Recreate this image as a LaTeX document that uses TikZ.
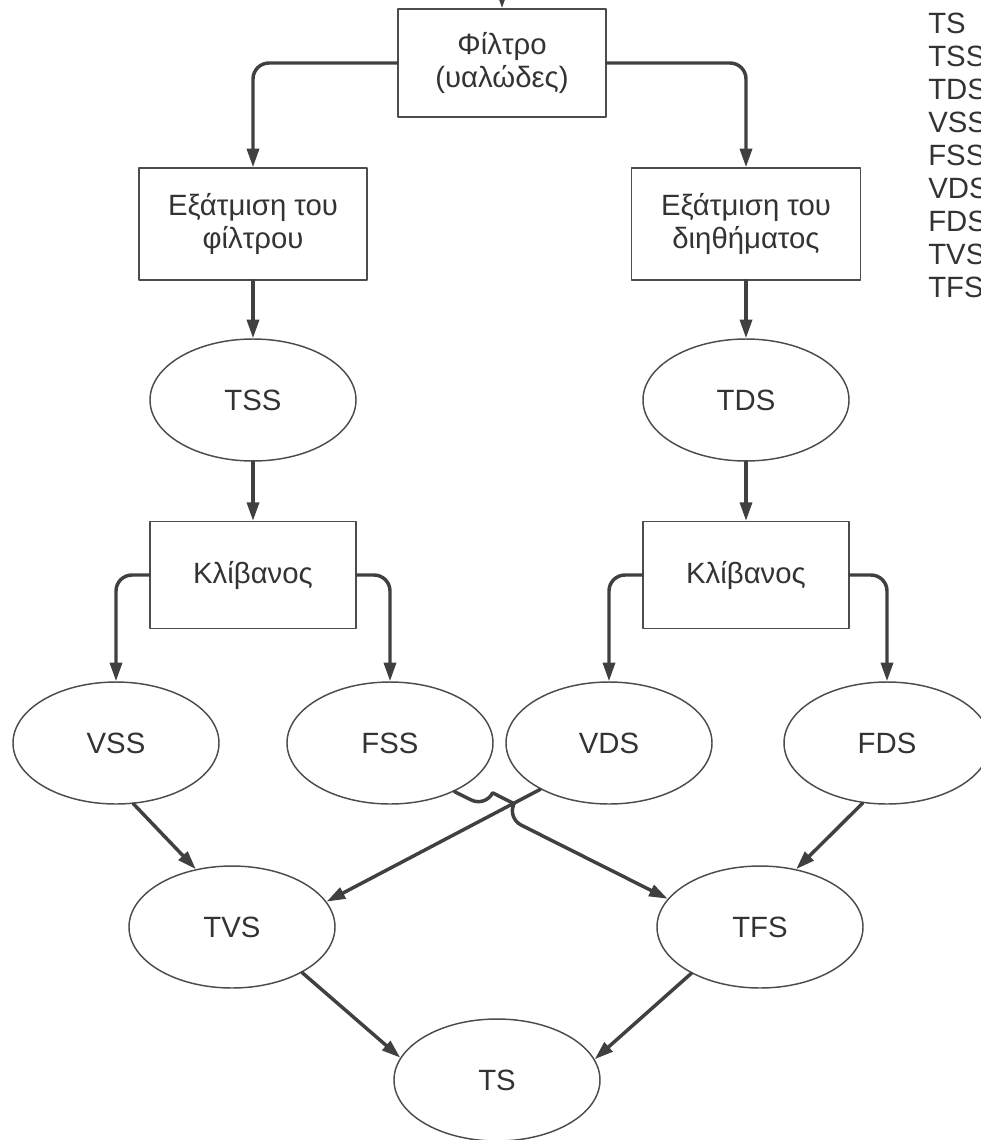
\documentclass[tikz,border=0pt]{standalone}
\usepackage{fontspec}
\setmainfont{Liberation Sans}
\usetikzlibrary{shapes.geometric,arrows.meta,calc,intersections}
\begin{document}
\begin{tikzpicture}[x=0.75pt,y=-0.75pt,font=\fontsize{22}{25}\selectfont,line join=round,line cap=round,>={Triangle[length=14pt,width=9pt]},
  box/.style={draw=black!70,line width=1.1pt,rectangle,align=center,text=black!80,inner sep=0pt},
  oval/.style={draw=black!70,line width=1.1pt,ellipse,minimum width=154.5pt,minimum height=91.5pt,inner sep=0pt,text=black!80},
  flow/.style={->,draw=black!75,line width=2.6pt,rounded corners=12pt}]
\useasboundingbox (0,0) rectangle (981,1140);
\clip (0,0) rectangle (981,1140);
\coordinate (in) at (502,-20);
% boxes
\node[box,minimum width=156pt,minimum height=81pt] (filtro) at (502,63) {Φίλτρο\\(υαλώδες)};
\node[box,minimum width=171pt,minimum height=84pt] (ev1) at (253,224) {Εξάτμιση του\\φίλτρου};
\node[box,minimum width=172pt,minimum height=84pt] (ev2) at (746,224) {Εξάτμιση του\\διηθήματος};
\node[box,minimum width=154.5pt,minimum height=80pt] (kl1) at (253,575) {Κλίβανος};
\node[box,minimum width=154.5pt,minimum height=80pt] (kl2) at (746,575) {Κλίβανος};
% ovals
\node[oval] (tss) at (253,400) {TSS};
\node[oval] (tds) at (746,400) {TDS};
\node[oval] (vss) at (116,743) {VSS};
\node[oval] (fss) at (390,743) {FSS};
\node[oval] (vds) at (609,743) {VDS};
\node[oval] (fds) at (887,743) {FDS};
\node[oval] (tvs) at (232,927) {TVS};
\node[oval] (tfs) at (760,927) {TFS};
\node[oval] (ts) at (497,1080) {TS};
% key
\foreach \t [count=\i from 0] in {TS,TSS,TDS,VSS,FSS,VDS,FDS,TVS,TFS}
  \node[anchor=west,inner sep=0pt,text=black!80] (key\i) at (928,23+33*\i) {\t};
% arrows
\draw[flow] (in) -- (filtro);
\draw[flow] (filtro.west) -| (ev1.north);
\draw[flow] (filtro.east) -| (ev2.north);
\draw[flow] (ev1) -- (tss);
\draw[flow] (ev2) -- (tds);
\draw[flow] (tss) -- (kl1);
\draw[flow] (tds) -- (kl2);
\draw[flow] (kl1.west) -| (vss.north);
\draw[flow] (kl1.east) -| (fss.north);
\draw[flow] (kl2.west) -| (vds.north);
\draw[flow] (kl2.east) -| (fds.north);
\draw[flow] (vss.-74) -- (tvs.122);
\draw[flow,name path=cross] (vds.-146) -- (tvs.15);
\path[name path=jump] (fss.-37) -- (tfs.163);
\path[name intersections={of=cross and jump,by=x}];
\draw[flow] (fss.-37) -- ($(x)!-9pt!(tfs.163)$) to[bend left=90,looseness=1.7] ($(x)!9pt!(tfs.163)$) -- (tfs.163);
\draw[flow] (fds.-112) -- (tfs.58);
\draw[flow] (tvs.-33) -- (ts.167);
\draw[flow] (tfs.214) -- (ts.12);
\end{tikzpicture}
\end{document}
